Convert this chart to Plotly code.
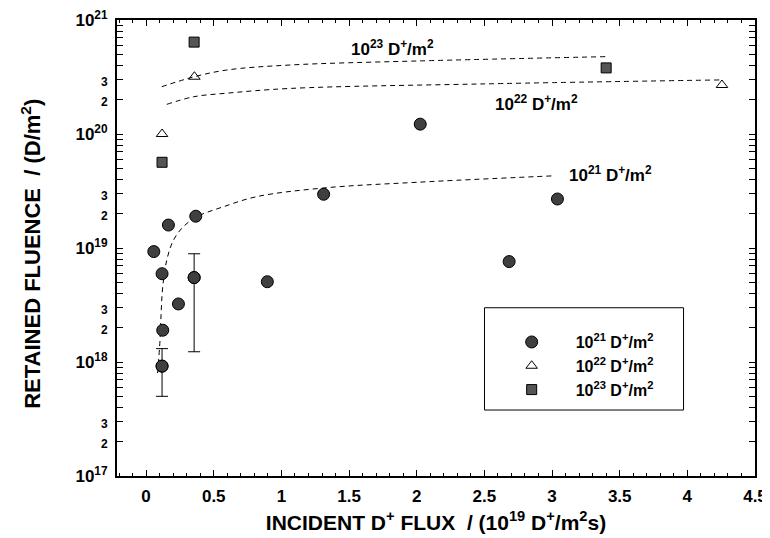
import plotly.graph_objects as go

# ---- data ----
circ_x = [0.057, 0.165, 0.367, 0.118, 0.355, 0.239, 0.123, 0.118, 0.896, 1.312, 2.026, 2.683, 3.04]
circ_y = [9.3e18, 1.59e19, 1.9e19, 5.95e18, 5.5e18, 3.23e18, 1.9e18, 9.2e17, 5.06e18, 2.96e19, 1.22e20, 7.6e18, 2.69e19]
# asymmetric error bars (only two points carry them)
circ_err_hi = [None, None, None, None, 8.9e18, None, None, 1.31e18, None, None, None, None, None]
circ_err_lo = [None, None, None, None, 1.23e18, None, None, 5.0e17, None, None, None, None, None]

tri_x = [0.118, 0.357, 4.256]
tri_y = [1.0e20, 3.18e20, 2.69e20]

sq_x = [0.355, 0.118, 3.40]
sq_y = [6.4e20, 5.65e19, 3.8e20]

# dashed guide curves
c21_x = [0.085, 0.103, 0.111, 0.123, 0.153, 0.202, 0.276, 0.374, 0.571, 0.817, 1.31, 2.0, 3.02]
c21_y = [8.0e17, 1.56e18, 2.67e18, 4.57e18, 7.85e18, 1.17e19, 1.54e19, 1.88e19, 2.3e19, 2.82e19, 3.36e19, 3.77e19, 4.3e19]
c22_x = [0.153, 0.35, 0.596, 1.064, 2.49, 4.24]
c22_y = [1.82e20, 2.12e20, 2.28e20, 2.51e20, 2.75e20, 2.98e20]
c23_x = [0.116, 0.357, 0.596, 1.064, 2.0, 3.40]
c23_y = [2.6e20, 3.18e20, 3.64e20, 4.03e20, 4.37e20, 4.77e20]

series_names = ["10<sup>21</sup> D<sup>+</sup>/m<sup>2</sup>",
                "10<sup>22</sup> D<sup>+</sup>/m<sup>2</sup>",
                "10<sup>23</sup> D<sup>+</sup>/m<sup>2</sup>"]
curve_label_x = [3.43, 2.886, 1.82]
curve_label_y = [19.649, 20.27, 20.757]  # log10 positions

y_tickvals = []
y_ticktext = []
for dec in range(17, 22):
    for m in range(1, 10):
        if dec == 21 and m > 1:
            break
        y_tickvals.append(float(m) * 10.0 ** dec)
        if m == 1:
            y_ticktext.append(f"10<sup>{dec}</sup>")
        elif m in (2, 3):
            y_ticktext.append(f"<span style='font-size:12px'>{m}</span>")
        else:
            y_ticktext.append("")

FONT = "Liberation Sans, Arial, sans-serif"
DARK = "#3f3f3f"

fig = go.Figure()

# dashed curves
for cx, cy in [(c21_x, c21_y), (c22_x, c22_y), (c23_x, c23_y)]:
    fig.add_trace(go.Scatter(x=cx, y=cy, mode="lines", line_shape="spline",
                             line=dict(color="black", width=1, dash="5px,4px"),
                             showlegend=False, hoverinfo="skip"))

# error-bar subset
idx = [i for i, v in enumerate(circ_err_hi) if v is not None]
fig.add_trace(go.Scatter(
    x=[circ_x[i] for i in idx], y=[circ_y[i] for i in idx], mode="markers",
    marker=dict(size=12, color=DARK, line=dict(color="black", width=1)),
    error_y=dict(type="data", symmetric=False,
                 array=[circ_err_hi[i] - circ_y[i] for i in idx],
                 arrayminus=[circ_y[i] - circ_err_lo[i] for i in idx],
                 color="black", thickness=1, width=6),
    showlegend=False))

fig.add_trace(go.Scatter(x=circ_x, y=circ_y, mode="markers", name=series_names[0],
                         marker=dict(symbol="circle", size=12, color=DARK,
                                     line=dict(color="black", width=1))))
fig.add_trace(go.Scatter(x=tri_x, y=tri_y, mode="markers", name=series_names[1],
                         marker=dict(symbol="triangle-up-open", size=10, color="black",
                                     line=dict(width=1))))
fig.add_trace(go.Scatter(x=sq_x, y=sq_y, mode="markers", name=series_names[2],
                         marker=dict(symbol="square", size=10, color="#555555",
                                     line=dict(color="black", width=1))))

for name, lx, ly in zip(series_names, curve_label_x, curve_label_y):
    fig.add_annotation(x=lx, y=ly, xref="x", yref="y", text=name, showarrow=False,
                       font=dict(family=FONT, size=17, color="black", weight="bold"))

# legend frame
fig.add_shape(type="rect", xref="paper", yref="paper", x0=0.576, x1=0.888,
              y0=0.1447, y1=0.369, line=dict(color="black", width=1))

fig.add_annotation(xref="paper", yref="paper", x=-0.135, y=0.487, textangle=-90,
                   xanchor="center", yanchor="middle",
                   text="RETAINED FLUENCE  / (D/m<sup>2</sup>)", showarrow=False,
                   font=dict(family=FONT, size=22, color="black", weight="bold"))

fig.update_layout(
    width=762, height=530,
    margin=dict(l=109, r=15, t=12, b=62),
    paper_bgcolor="white", plot_bgcolor="white",
    font=dict(family=FONT, color="black", size=15, weight="bold"),
    showlegend=True,
    legend=dict(x=0.581, y=0.331, xanchor="left", yanchor="top",
                bgcolor="rgba(0,0,0,0)", borderwidth=0,
                font=dict(family=FONT, size=16, weight="bold"),
                itemwidth=78, tracegroupgap=0),
    xaxis=dict(range=[-0.215, 4.5], dtick=0.5, tick0=0, ticks="inside", ticklen=6,
               tickwidth=1, tickcolor="black", showline=True, linewidth=2,
               linecolor="black", mirror="ticks", showgrid=False, zeroline=False,
               automargin=False, ticklabelstandoff=4, ticklabeloverflow="allow",
               minor=dict(dtick=0.1, ticks="inside", ticklen=3, tickcolor="black"),
               tickfont=dict(family=FONT, size=17, weight="bold"),
               title=dict(text="INCIDENT D<sup>+</sup> FLUX  / (10<sup>19</sup> D<sup>+</sup>/m<sup>2</sup>s)",
                          font=dict(family=FONT, size=21, weight="bold"), standoff=10)),
    yaxis=dict(type="log", range=[17, 21], tickmode="array", tickvals=y_tickvals,
               ticktext=y_ticktext, ticks="inside", ticklen=6, tickwidth=1,
               tickcolor="black", showline=True, linewidth=2, linecolor="black",
               mirror="ticks", showgrid=False, zeroline=False, automargin=False,
               ticklabelstandoff=4, ticklabeloverflow="allow",
               tickfont=dict(family=FONT, size=17, weight="bold")),
)

fig.write_html("out.html")
